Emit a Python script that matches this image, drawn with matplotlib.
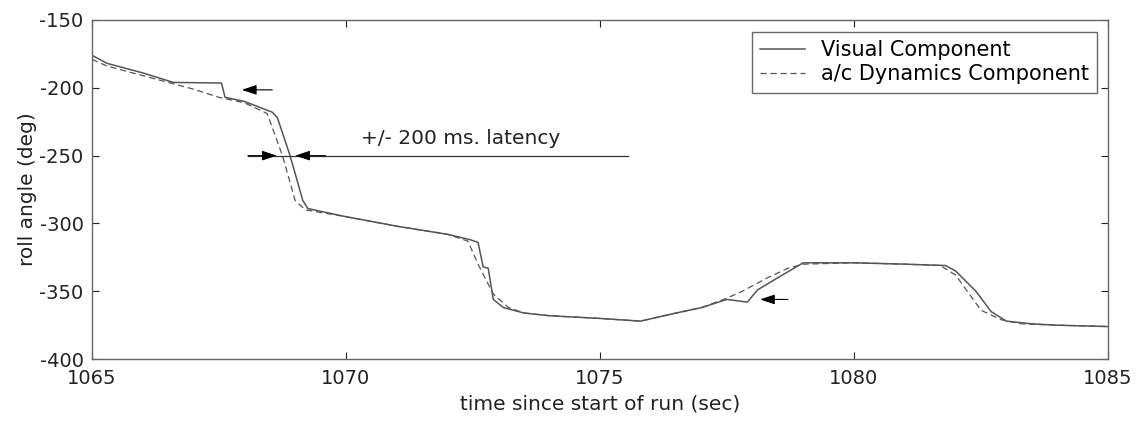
import matplotlib
matplotlib.use('Agg')
import matplotlib.pyplot as plt

# --- data ---
t_visual = [1065.0, 1065.3, 1066.0, 1066.6, 1067.55, 1067.62, 1068.0, 1068.55, 1068.65,
            1068.9, 1069.15, 1069.25, 1070.0, 1071.0, 1072.0, 1072.45, 1072.6, 1072.7,
            1072.8, 1072.9, 1073.1, 1073.5, 1074.0, 1075.0, 1075.8, 1076.5, 1077.0,
            1077.5, 1077.9, 1078.1, 1078.5, 1079.0, 1080.0, 1081.0, 1081.8, 1082.0,
            1082.4, 1082.7, 1083.0, 1083.5, 1084.0, 1085.0]
roll_visual = [-176, -182, -189, -196, -196.5, -207, -210, -218, -222,
               -250, -283, -289, -295, -302, -308, -312, -314, -332,
               -333, -356, -362, -366, -368, -370, -372, -366, -362,
               -356, -358, -349, -340, -329, -329, -330, -331, -335,
               -350, -365, -372, -374, -375, -376]

t_dyn = [1065.0, 1065.3, 1066.0, 1067.0, 1067.5, 1068.0, 1068.45, 1068.75, 1069.0,
         1069.2, 1070.0, 1071.0, 1072.0, 1072.4, 1072.6, 1072.9, 1073.2, 1073.5,
         1074.0, 1075.0, 1075.8, 1076.5, 1077.0, 1077.5, 1077.8, 1078.3, 1078.7,
         1079.0, 1080.0, 1081.0, 1081.7, 1082.0, 1082.5, 1082.9, 1083.3, 1084.0, 1085.0]
roll_dyn = [-179, -184, -191, -201, -207, -211, -219, -250, -283,
            -290, -295, -302, -308, -313, -330, -352, -362, -366,
            -368, -370, -372, -366, -362, -355, -350, -340, -333,
            -330, -329, -330, -331, -338, -364, -371, -374, -375, -376]

# arrows: (tip_x, tail_x, y)
step_arrows = [(1067.95, 1068.55, -201.5), (1078.15, 1078.7, -356)]
latency_line = (1068.07, 1075.55, -250)
latency_tips = (1068.64, 1069.0)

plt.rcParams['font.family'] = ['DejaVu Sans']
plt.rcParams['axes.unicode_minus'] = False
grey = '#555555'
txt = '#222222'
fs = 14.5

fig = plt.figure(figsize=(11.45, 4.21), dpi=100)
ax = fig.add_axes([0.0803, 0.147, 0.8874, 0.8055])

ax.plot(t_visual, roll_visual, '-', color=grey, lw=1.1, label='Visual Component')
ax.plot(t_dyn, roll_dyn, '--', color=grey, lw=0.9, dashes=(5, 3),
        label='a/c Dynamics Component')

head = dict(arrowstyle='-|>,head_length=0.9,head_width=0.3', color='black',
            lw=0.8, shrinkA=0, shrinkB=0)
for tip, tail, y in step_arrows:
    ax.annotate('', xy=(tip, y), xytext=(tail, y), arrowprops=head)

x0, x1, yl = latency_line
ax.plot([x0, x1], [yl, yl], color='#333333', lw=0.9)
ax.annotate('', xy=(latency_tips[0], yl), xytext=(x0, yl), arrowprops=head)
ax.annotate('', xy=(latency_tips[1], yl), xytext=(latency_tips[1] + 0.6, yl),
            arrowprops=head)
ax.text(1070.3, -237, '+/- 200 ms. latency', fontsize=fs, color=txt,
        va='center', ha='left')

ax.set_xlim(1065, 1085)
ax.set_ylim(-400, -150)
ax.set_xticks([1065, 1070, 1075, 1080, 1085])
ax.set_yticks([-400, -350, -300, -250, -200, -150])
ax.tick_params(direction='in', top=True, right=True, labelsize=14,
               colors=txt, length=5, width=0.8)
ax.tick_params(axis='x', pad=7)
ax.tick_params(axis='y', pad=6)
for s in ax.spines.values():
    s.set_color('#666666')
    s.set_linewidth(1.0)

ax.set_xlabel('time since start of run (sec)', fontsize=fs, color=txt, labelpad=5)
ax.set_ylabel('roll angle (deg)', fontsize=fs, color=txt, labelpad=2)

leg = ax.legend(loc='upper right', fontsize=15, frameon=True, fancybox=False,
                handlelength=2.15, borderpad=0.4, labelspacing=0.2,
                handletextpad=0.75, borderaxespad=0,
                bbox_to_anchor=(0.989, 0.965))
leg.get_frame().set_edgecolor('#444444')
leg.get_frame().set_linewidth(1.0)

fig.savefig('out.png', dpi=100)
